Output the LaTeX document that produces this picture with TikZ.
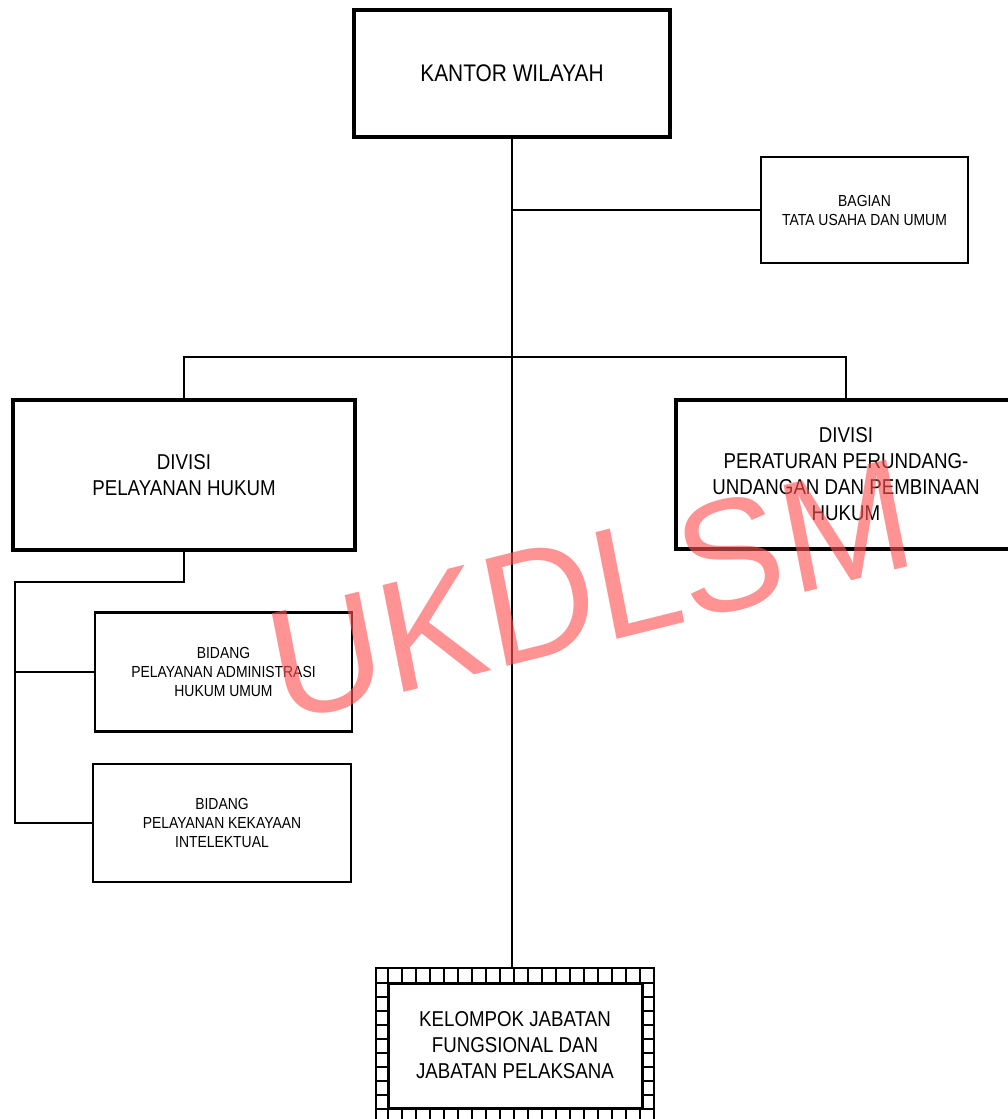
\documentclass[tikz,border=0pt]{standalone}
\usepackage{fontspec}
\setmainfont{Liberation Sans}[FakeStretch=0.87]
\newfontfamily\markfont{Liberation Sans}
\usepackage{xcolor}
\usepackage{tikz}
\definecolor{markred}{RGB}{255,80,80}

\begin{document}
\begin{tikzpicture}[x=1pt,y=-1pt,
  unit/.style={draw,line width=4pt,align=center,inner sep=2pt},
  subunit/.style={draw,line width=2.5pt,align=center,inner sep=2pt,font={\fontsize{16}{19}\selectfont}},
  bigtext/.style={font={\fontsize{21.5}{26}\selectfont}},
  link/.style={line width=2pt},
  cell/.style={line width=1.2pt},
  stamp/.style={text=markred,opacity=0.62,rotate=14,xslant=0.05,inner sep=0pt,font={\markfont\fontsize{158}{160}\selectfont}}]
 \useasboundingbox (0,0) rectangle (1007,1119);
 \node[unit,minimum width=316pt,minimum height=127pt,font={\fontsize{24}{29}\selectfont}] (KW) at (512,73.5) {KANTOR WILAYAH};
 \node[subunit,minimum width=207pt,minimum height=106pt] (TU) at (864.5,210) {BAGIAN\\TATA USAHA DAN UMUM};
 \node[unit,bigtext,minimum width=342pt,minimum height=150pt] (DPH) at (184,475) {DIVISI\\PELAYANAN HUKUM};
 \node[unit,bigtext,minimum width=340pt,minimum height=149pt] (DPP) at (846,474.5) {DIVISI\\PERATURAN PERUNDANG-\\UNDANGAN DAN PEMBINAAN\\HUKUM};
 \node[subunit,minimum width=257pt,minimum height=119pt] (BAH) at (223.5,672) {BIDANG\\PELAYANAN ADMINISTRASI\\HUKUM UMUM};
 \node[subunit,minimum width=258pt,minimum height=118pt] (BKI) at (222,823) {BIDANG\\PELAYANAN KEKAYAAN\\INTELEKTUAL};
 \node[draw,cell,minimum width=278pt,minimum height=164pt,inner sep=0pt] (KJFo) at (515,1050) {};
 \foreach \x in {388,402,...,640} {
  \draw[cell] (\x,968) -- (\x,983);
  \draw[cell] (\x,1108) -- (\x,1132);
 }
 \foreach \y in {983,997,...,1109} {
  \draw[cell] (376,\y) -- (388,\y);
  \draw[cell] (642,\y) -- (654,\y);
 }
 \node[draw,fill=white,line width=3pt,bigtext,align=center,minimum width=254pt,minimum height=125pt] (KJF) at (515,1045.5) {KELOMPOK JABATAN\\FUNGSIONAL DAN\\JABATAN PELAKSANA};
 \coordinate (bar) at (512,357);
 \coordinate (spine) at (15,582);
 \draw[link] (KW.south) -- (KW.south |- KJFo.north);
 \draw[link] (KW.south |- TU.west) -- (TU.west);
 \draw[link] (DPH.north) |- (bar) -| (DPP.north);
 \draw[link] (DPH.south) |- (spine) |- (BKI.west);
 \draw[link] (spine |- BAH.west) -- (BAH.west);
 \node[stamp] (mark) at (590,590) {UKDLSM};
\end{tikzpicture}
\end{document}
